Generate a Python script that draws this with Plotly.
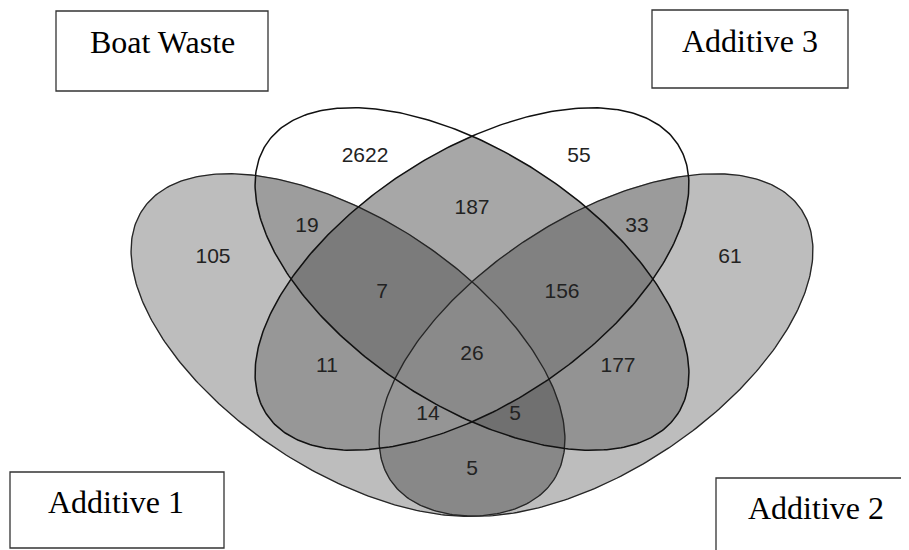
import numpy as np
import plotly.graph_objects as go

# ---------------- data ----------------
set_names = ["Boat Waste", "Additive 3", "Additive 1", "Additive 2"]

# each region: the sets it belongs to (exactly), its count
region_members = [
    ("Boat Waste",),
    ("Additive 3",),
    ("Additive 1",),
    ("Additive 2",),
    ("Boat Waste", "Additive 3"),
    ("Boat Waste", "Additive 1"),
    ("Additive 3", "Additive 2"),
    ("Boat Waste", "Additive 3", "Additive 1"),
    ("Boat Waste", "Additive 3", "Additive 2"),
    ("Additive 3", "Additive 1"),
    ("Boat Waste", "Additive 2"),
    ("Boat Waste", "Additive 3", "Additive 1", "Additive 2"),
    ("Additive 3", "Additive 1", "Additive 2"),
    ("Boat Waste", "Additive 1", "Additive 2"),
    ("Additive 1", "Additive 2"),
]
region_counts = [2622, 55, 105, 61, 187, 19, 33, 7, 156, 11, 177, 26, 14, 5, 5]

# ---------------- styles / layout constants ----------------
region_colors = ["#ffffff", "#ffffff", "#bdbdbd", "#bdbdbd",
                 "#a7a7a7", "#9d9d9d", "#9b9b9b",
                 "#7b7b7b", "#818181", "#979797", "#939393",
                 "#8a8a8a", "#959595", "#707070", "#888888"]

# label anchor (pixel coords) for each region, same order as above
label_x = [365, 579, 213, 730, 472, 307, 637, 382, 562, 327, 618, 472, 428, 515, 472]
label_y = [157, 157, 258, 258, 209, 227, 227, 293, 293, 367, 367, 355, 415, 415, 470]

# ellipse geometry in pixel space: centre x, centre y, tilt (deg, y down)
SEMI_A, SEMI_B = 246.0, 126.0
ellipse_geom = {
    "Boat Waste": (472.0, 279.0, 33.3),
    "Additive 3": (472.0, 279.0, -33.3),
    "Additive 1": (348.0, 345.0, 33.3),
    "Additive 2": (596.0, 345.0, -33.3),
}
outline_style = {
    "Boat Waste": ("#111111", 1.5),
    "Additive 3": ("#111111", 1.5),
    "Additive 1": ("#262626", 1.35),
    "Additive 2": ("#262626", 1.35),
}

# legend boxes: x0, y0, x1, y1, text x, text y
box_geom = {
    "Boat Waste": (56, 11, 268, 91, 162, 42),
    "Additive 3": (652, 10, 848, 88, 750, 41),
    "Additive 1": (10, 472, 224, 548, 116, 502),
    "Additive 2": (716, 478, 915, 560, 816, 508),
}

# the page body has an 8 px margin: shift the data window so that
# data coordinates equal screen pixels
PAGE_MARGIN = 8
W, H = 909, 550


def ellipse_poly(name, n=360):
    cx, cy, ang = ellipse_geom[name]
    t = np.linspace(0, 2 * np.pi, n, endpoint=False)
    th = np.deg2rad(ang)
    x = cx + SEMI_A * np.cos(t) * np.cos(th) - SEMI_B * np.sin(t) * np.sin(th)
    y = cy + SEMI_A * np.cos(t) * np.sin(th) + SEMI_B * np.sin(t) * np.cos(th)
    return list(zip(x.tolist(), y.tolist()))


def signed_area(poly):
    s = 0.0
    for i in range(len(poly)):
        x1, y1 = poly[i]
        x2, y2 = poly[(i + 1) % len(poly)]
        s += x1 * y2 - x2 * y1
    return s / 2


def clip(subject, clipper):
    sign = 1 if signed_area(clipper) > 0 else -1

    def inside(p, a, b):
        return sign * ((b[0] - a[0]) * (p[1] - a[1]) - (b[1] - a[1]) * (p[0] - a[0])) >= 0

    def inter(p, q, a, b):
        x1, y1 = p; x2, y2 = q; x3, y3 = a; x4, y4 = b
        den = (x1 - x2) * (y3 - y4) - (y1 - y2) * (x3 - x4)
        if den == 0:
            return q
        t = ((x1 - x3) * (y3 - y4) - (y1 - y3) * (x3 - x4)) / den
        return (x1 + t * (x2 - x1), y1 + t * (y2 - y1))

    out = subject
    for i in range(len(clipper)):
        a = clipper[i]
        b = clipper[(i + 1) % len(clipper)]
        inp = out
        out = []
        if not inp:
            break
        s = inp[-1]
        for e in inp:
            if inside(e, a, b):
                if not inside(s, a, b):
                    out.append(inter(s, e, a, b))
                out.append(e)
            elif inside(s, a, b):
                out.append(inter(s, e, a, b))
            s = e
    return out


polys = {n: ellipse_poly(n) for n in set_names}

fig = go.Figure()

# paint region fills: intersections ordered by number of sets
order = sorted(range(len(region_members)), key=lambda i: len(region_members[i]))
for i in order:
    members = region_members[i]
    poly = polys[members[0]]
    for m in members[1:]:
        poly = clip(poly, polys[m])
    if not poly:
        continue
    xs = [p[0] for p in poly] + [poly[0][0]]
    ys = [p[1] for p in poly] + [poly[0][1]]
    fig.add_trace(go.Scatter(x=xs, y=ys, mode="lines", fill="toself",
                             fillcolor=region_colors[i],
                             line=dict(width=0.6, color=region_colors[i]),
                             hoverinfo="skip", showlegend=False))

# ellipse outlines
for n in ["Additive 1", "Additive 2", "Boat Waste", "Additive 3"]:
    p = polys[n]
    xs = [q[0] for q in p] + [p[0][0]]
    ys = [q[1] for q in p] + [p[0][1]]
    col, w = outline_style[n]
    fig.add_trace(go.Scatter(x=xs, y=ys, mode="lines",
                             line=dict(color=col, width=w),
                             hoverinfo="skip", showlegend=False))

# region counts
fig.add_trace(go.Scatter(x=label_x, y=label_y, mode="text",
                         text=[str(c) for c in region_counts],
                         textfont=dict(family="Liberation Sans", size=21, color="#222222"),
                         textposition="middle center",
                         hoverinfo="skip", showlegend=False))

# set name boxes
shapes = []
annotations = []
for n in set_names:
    x0, y0, x1, y1, tx, ty = box_geom[n]
    shapes.append(dict(type="rect", xref="x", yref="y", x0=x0, y0=y0, x1=x1, y1=y1,
                       line=dict(color="#333333", width=1.3), fillcolor="rgba(0,0,0,0)"))
    annotations.append(dict(x=tx, y=ty, xref="x", yref="y", text=n, showarrow=False,
                            xanchor="center", yanchor="middle",
                            font=dict(family="Liberation Serif", size=32, color="#000000")))

fig.update_layout(
    width=W - PAGE_MARGIN, height=H - PAGE_MARGIN,
    autosize=False,
    margin=dict(l=0, r=0, t=0, b=0, pad=0),
    paper_bgcolor="white", plot_bgcolor="white",
    xaxis=dict(range=[PAGE_MARGIN, W], visible=False, fixedrange=True),
    yaxis=dict(range=[H, PAGE_MARGIN], visible=False, fixedrange=True),
    shapes=shapes, annotations=annotations,
    showlegend=False,
)

fig.write_html("out.html")
